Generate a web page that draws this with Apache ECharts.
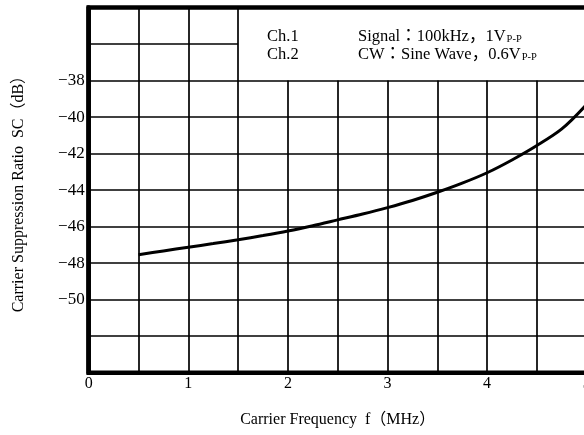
<!DOCTYPE html>
<html><head><meta charset="utf-8">
<script src="https://cdn.jsdelivr.net/npm/echarts@6/dist/echarts.min.js"></script>
<style>html,body{margin:0;padding:0;background:#fff;overflow:hidden}#c{width:584px;height:435px}</style>
</head><body><div id="c"></div>
<script>
// ---- data ----
const freqMHz = [0.5, 0.75, 1.0, 1.25, 1.5, 1.75, 2.0, 2.25, 2.5, 2.75, 3.0, 3.25, 3.5, 3.75, 4.0, 4.25, 4.5, 4.75, 5.0];
const scDB = [-47.54, -47.33, -47.13, -46.93, -46.72, -46.49, -46.24, -45.95, -45.63, -45.31, -44.96, -44.57, -44.12, -43.62, -43.05, -42.35, -41.56, -40.65, -39.3];
const xTickLabels = ['0', '1', '2', '3', '4', '5'];
const yTickLabels = ['−38', '−40', '−42', '−44', '−46', '−48', '−50'];
const noteChannels = ['Ch.1', 'Ch.2'];
const noteTexts = ['Signal：100kHz，1V', 'CW：Sine Wave，0.6V'];
const noteSub = 'P-P';
const xTitle = 'Carrier Frequency  f（MHz）';
const yTitle = 'Carrier Suppression Ratio  SC（dB）';

const xMin = 0, xMax = 5, xStep = 0.5;
const yMin = -54, yMax = -34, yStep = 2;
// box where the conditions note sits (no grid inside)
const boxX = 1.5, boxY = -38;

const FONT = "'Liberation Serif', 'Noto Sans CJK JP', serif";

// grid lines built from axis scale
const gridLines = [];
for (let x = xMin + xStep; x < xMax - 1e-9; x += xStep) {
  const top = x > boxX + 1e-9 ? boxY : yMax;
  gridLines.push([{ coord: [x, yMin] }, { coord: [x, top] }]);
}
for (let y = yMin + yStep; y < yMax - 1e-9; y += yStep) {
  const right = y > boxY + 1e-9 ? boxX : xMax;
  gridLines.push([{ coord: [xMin, y] }, { coord: [right, y] }]);
}

const chart = echarts.init(document.getElementById('c'));
chart.setOption({
  animation: false,
  backgroundColor: '#fff',
  grid: { left: 88.7, width: 498, top: 7.5, height: 365.2, outerBoundsMode: 'none', containLabel: false,
          show: true, borderColor: '#000', borderWidth: 4.5, backgroundColor: 'transparent' },
  xAxis: {
    type: 'value', min: xMin, max: xMax, interval: xStep,
    axisLine: { show: true, lineStyle: { color: '#000', width: 4 } },
    axisTick: { show: false }, splitLine: { show: false },
    axisLabel: {
      margin: 3, color: '#000', fontFamily: FONT, fontSize: 16, showMaxLabel: true,
      formatter: v => { const i = xTickLabels.indexOf(String(v)); return i >= 0 ? xTickLabels[i] : ''; }
    },
    name: xTitle, nameLocation: 'middle', nameGap: 47,
    nameTextStyle: { color: '#000', fontFamily: FONT, fontSize: 16, verticalAlign: 'middle' }
  },
  yAxis: {
    type: 'value', min: yMin, max: yMax, interval: yStep,
    axisLine: { show: true, lineStyle: { color: '#000', width: 4.5 } },
    axisTick: { show: false }, splitLine: { show: false },
    axisLabel: {
      margin: 4, color: '#000', fontFamily: FONT, fontSize: 17,
      formatter: v => { const s = '−' + Math.abs(v); return yTickLabels.indexOf(s) >= 0 ? s : ''; }
    },
    name: yTitle, nameLocation: 'middle', nameGap: 70,
    nameTextStyle: { color: '#000', fontFamily: FONT, fontSize: 16, verticalAlign: 'middle' }
  },
  series: [{
    type: 'line', smooth: 0.3, symbol: 'none',
    data: freqMHz.map((f, i) => [f, scDB[i]]),
    lineStyle: { color: '#000', width: 3 },
    z: 3,
    markLine: {
      silent: true, symbol: ['none', 'none'], animation: false,
      label: { show: false },
      lineStyle: { color: '#000', width: 1.7, type: 'solid' },
      emphasis: { disabled: true },
      data: gridLines
    }
  }],
  graphic: [0, 1].map(i => ({
    type: 'group', left: 267, top: 28 + i * 18,
    children: [
      { type: 'text', x: 0, y: 0, style: { text: noteChannels[i], font: '16.5px ' + FONT, fill: '#000' } },
      { type: 'text', x: 91, y: 0, style: {
          text: '{m|' + noteTexts[i] + '}{s|' + noteSub + '}',
          fill: '#000',
          rich: {
            m: { fontFamily: FONT, fontSize: 16.5, fill: '#000' },
            s: { fontFamily: FONT, fontSize: 10.5, fill: '#000', padding: [6, 0, 0, 1], verticalAlign: 'bottom' }
          }
      } }
    ]
  }))
});
</script></body></html>
